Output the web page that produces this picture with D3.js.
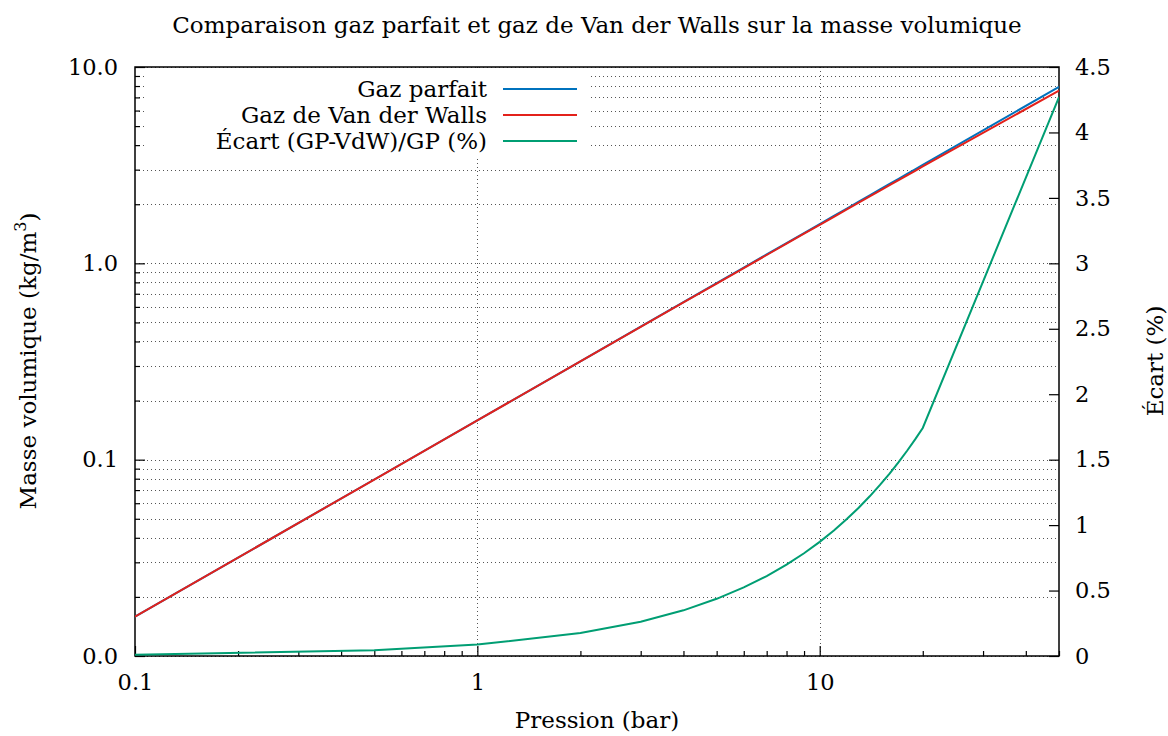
<!DOCTYPE html>
<html>
<head>
<meta charset="utf-8">
<script src="https://cdn.jsdelivr.net/npm/d3@7"></script>
<style>
  html, body { margin: 0; padding: 0; background: #fff; }
  svg text { font-family: "DejaVu Serif", serif; fill: #000; }
</style>
</head>
<body>
<svg id="chart" width="1168" height="736"></svg>
<script>
// ---- data ----
const pressures = [0.1, 0.5, 1, 2, 3, 4, 5, 6, 7, 8, 9, 10, 11, 12, 13, 14, 15, 16, 17, 18, 19, 20, 50];
const gazParfait = [0.01585, 0.07925, 0.1585, 0.317, 0.4755, 0.634, 0.7925, 0.951, 1.1095, 1.268, 1.4265, 1.585, 1.7435, 1.902, 2.0605, 2.219, 2.3775, 2.536, 2.6945, 2.853, 3.0115, 3.17, 7.925];
const vanDerWaals = [0.01585, 0.07922, 0.15836, 0.31645, 0.47425, 0.63179, 0.78904, 0.94602, 1.10272, 1.25915, 1.4153, 1.57118, 1.72678, 1.88211, 2.03716, 2.19193, 2.34643, 2.50065, 2.6546, 2.80827, 2.96166, 3.11478, 7.5866];
const ecart = [0.009, 0.044, 0.087, 0.175, 0.262, 0.349, 0.437, 0.524, 0.611, 0.698, 0.785, 0.872, 0.959, 1.046, 1.133, 1.22, 1.307, 1.394, 1.481, 1.568, 1.655, 1.742, 4.27];

const xMajorTicks = [0.1, 1, 10];
const xMinorTicks = [0.2, 0.3, 0.4, 0.5, 0.6, 0.7, 0.8, 0.9, 2, 3, 4, 5, 6, 7, 8, 9, 20, 30, 40, 50];
const yMajorTicks = [0.01, 0.1, 1, 10];
const yMinorTicks = [0.02, 0.03, 0.04, 0.05, 0.06, 0.07, 0.08, 0.09, 0.2, 0.3, 0.4, 0.5, 0.6, 0.7, 0.8, 0.9, 2, 3, 4, 5, 6, 7, 8, 9];
const y2Ticks = [0, 0.5, 1, 1.5, 2, 2.5, 3, 3.5, 4, 4.5];

const title = "Comparaison gaz parfait et gaz de Van der Walls sur la masse volumique";
const seriesNames = ["Gaz parfait", "Gaz de Van der Walls", "Écart (GP-VdW)/GP (%)"];
const colors = ["#0072bd", "#e3211b", "#009e73"];

// ---- layout ----
const L = 135, R = 1059, T = 67, B = 656;
const FS = 23, TFS = 22.5;
const svg = d3.select("#chart");

const x = d3.scaleLog().domain([0.1, 50]).range([L, R]);
const y = d3.scaleLog().domain([0.01, 10]).range([B, T]);
const y2 = d3.scaleLinear().domain([0, 4.5]).range([B, T]);

// grid
const grid = svg.append("g").attr("stroke", "#555").attr("stroke-width", 1).attr("stroke-dasharray", "1,3");
grid.selectAll("line.h").data(yMajorTicks.concat(yMinorTicks)).join("line")
  .attr("x1", L).attr("x2", R)
  .attr("y1", d => Math.round(y(d)) + 0.5).attr("y2", d => Math.round(y(d)) + 0.5);
grid.selectAll("line.v").data([1, 10]).join("line")
  .attr("y1", T).attr("y2", B)
  .attr("x1", d => Math.round(x(d)) + 0.5).attr("x2", d => Math.round(x(d)) + 0.5);

// legend box (opaque)
svg.append("rect").attr("x", 145).attr("y", 71).attr("width", 443).attr("height", 86).attr("fill", "#fff");

// axes
function styleAxis(g) {
  g.select(".domain").remove();
  g.selectAll(".tick line").attr("stroke", "#000").attr("stroke-width", 1.2);
  g.selectAll(".tick text").attr("font-family", "DejaVu Serif, serif").attr("font-size", TFS).attr("fill", "#000");
}
svg.append("g").attr("transform", `translate(0,${B})`)
  .call(d3.axisBottom(x).tickValues(xMajorTicks).tickSize(-10).tickPadding(18).tickFormat(d3.format("")))
  .call(styleAxis);
svg.append("g").attr("transform", `translate(0,${B})`)
  .call(d3.axisBottom(x).tickValues(xMinorTicks).tickSize(-5).tickFormat(""))
  .call(styleAxis);
svg.append("g").attr("transform", `translate(${L},0)`)
  .call(d3.axisLeft(y).tickValues(yMajorTicks).tickSize(-10).tickPadding(17).tickFormat(d3.format(".1f")))
  .call(styleAxis);
svg.append("g").attr("transform", `translate(${L},0)`)
  .call(d3.axisLeft(y).tickValues(yMinorTicks).tickSize(-5).tickFormat(""))
  .call(styleAxis);
const ax2 = svg.append("g").attr("transform", `translate(${R},0)`)
  .call(d3.axisRight(y2).tickValues(y2Ticks).tickSize(-10).tickPadding(16).tickFormat(d3.format("")))
  .call(styleAxis);
ax2.selectAll(".tick text").attr("fill", colors[2]);

// border
svg.append("rect").attr("x", L).attr("y", T).attr("width", R - L).attr("height", B - T)
  .attr("fill", "none").attr("stroke", "#000").attr("stroke-width", 1.5);

// lines
svg.append("clipPath").attr("id", "clip").append("rect")
  .attr("x", L).attr("y", T).attr("width", R - L).attr("height", B - T);
const idx = d3.range(pressures.length);
const lineY = arr => d3.line().x(i => x(pressures[i])).y(i => y(arr[i]));
const lineY2 = d3.line().x(i => x(pressures[i])).y(i => y2(ecart[i]));
const plot = svg.append("g").attr("clip-path", "url(#clip)").attr("fill", "none").attr("stroke-width", 2);
plot.append("path").attr("d", lineY(gazParfait)(idx)).attr("stroke", colors[0]);
plot.append("path").attr("d", lineY(vanDerWaals)(idx)).attr("stroke", colors[1]);
plot.append("path").attr("d", lineY2(idx)).attr("stroke", colors[2]);

// legend
const legY = [89, 115, 141];
seriesNames.forEach((n, i) => {
  svg.append("text").attr("x", 487).attr("y", legY[i]).attr("dy", "0.35em")
    .attr("text-anchor", "end").attr("font-size", FS).text(n);
  svg.append("line").attr("x1", 503).attr("x2", 577).attr("y1", legY[i]).attr("y2", legY[i])
    .attr("stroke", colors[i]).attr("stroke-width", 2);
});

// titles
svg.append("text").attr("x", (L + R) / 2).attr("y", 25).attr("dy", "0.35em")
  .attr("text-anchor", "middle").attr("font-size", FS).text(title);
svg.append("text").attr("x", (L + R) / 2).attr("y", 720).attr("dy", "0.35em")
  .attr("text-anchor", "middle").attr("font-size", FS).text("Pression (bar)");
const yl = svg.append("text").attr("transform", "translate(28,361) rotate(-90)").attr("dy", "0.35em")
  .attr("text-anchor", "middle").attr("font-size", FS);
yl.append("tspan").text("Masse volumique (kg/m");
yl.append("tspan").attr("font-size", 16).attr("dy", "-0.6em").text("3");
yl.append("tspan").attr("dy", "0.45em").text(")");
svg.append("text").attr("transform", "translate(1155,361) rotate(-90)").attr("dy", "0.35em")
  .attr("text-anchor", "middle").attr("font-size", FS).text("Écart (%)");
</script>
</body>
</html>
